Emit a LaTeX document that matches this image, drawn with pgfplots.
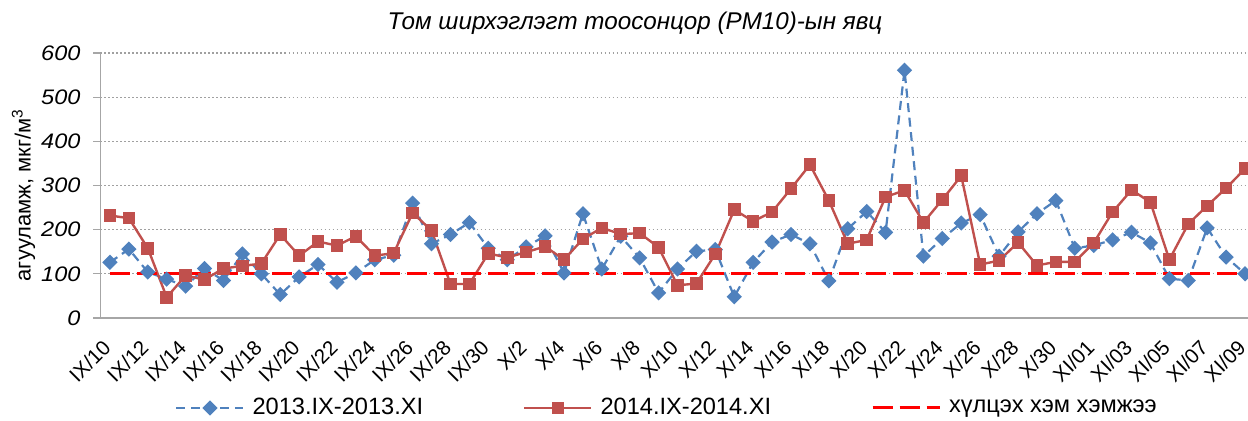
\documentclass[border=0pt]{standalone}
\usepackage{pgfplots}
\pgfplotsset{compat=1.18}
\usepackage{fontspec}
\setmainfont{Liberation Sans}
\newfontfamily\wideit{Liberation Sans}[FakeStretch=1.12, ItalicFont={Liberation Sans Italic}]
\definecolor{sblue}{HTML}{4F81BD}
\definecolor{sred}{HTML}{C0504D}
\definecolor{axgray}{HTML}{A6A6A6}
\definecolor{gridgray}{HTML}{A0A0A0}
\begin{document}
\begin{tikzpicture}
\begin{axis}[
  name=ax,
  scale only axis,
  width=577pt, height=132.5pt,
  xmin=-0.5, xmax=60.5, ymin=0, ymax=600,
  ytick={0,100,...,600},
  xtick={0,2,...,60},
  xticklabels={IX/10,IX/12,IX/14,IX/16,IX/18,IX/20,IX/22,IX/24,IX/26,IX/28,IX/30,X/2,X/4,X/6,X/8,X/10,X/12,X/14,X/16,X/18,X/20,X/22,X/24,X/26,X/28,X/30,XI/01,XI/03,XI/05,XI/07,XI/09},
  axis x line*=bottom, axis y line*=left,
  axis line style={-, draw=axgray, line width=0.9pt},
  ymajorgrids,
  grid style={gridgray, line width=0.55pt, dash pattern=on 0.6pt off 1.4pt},
  tick align=outside,
  major tick length=3.5pt,
  ytick style={draw=axgray, line width=0.6pt},
  xtick style={draw=none},
  /pgf/number format/assume math mode=true,
  yticklabel style={font=\fontsize{10.5}{13}\selectfont\wideit\itshape, anchor=east, xshift=-3pt},
  xticklabel style={font=\fontsize{10.3}{12}\selectfont, xshift=-1.5pt, yshift=-9.5pt, rotate=45, anchor=east, inner sep=0pt},
  clip=false,
  legend columns=3,
  legend cell align=left,
  legend style={draw=none, fill=none, font=\fontsize{11.8}{13}\selectfont,
    at={(axis description cs:0.4918,-0.3396)}, anchor=center,
    /tikz/every even column/.append style={column sep=48pt},
    /tikz/every odd column/.append style={column sep=2pt}},
  legend image code/.code={\draw[mark repeat=2,mark phase=2] plot coordinates {(0pt,0pt)(16.75pt,0pt)(33.5pt,0pt)};},
]
\addplot[sblue, line width=1.1pt, dash pattern=on 4.5pt off 2.8pt, mark=square*, mark size=2.15pt, mark options={solid, rotate=45, fill=sblue, draw=sblue}] coordinates {
(0,126)(1,156)(2,104)(3,88)(4,72)(5,112)(6,85)(7,145)(8,100)(9,53)
(10,93)(11,121)(12,81)(13,102)(14,132)(15,142)(16,260)(17,168)(18,189)(19,216)
(20,158)(21,132)(22,161)(23,186)(24,102)(25,236)(26,111)(27,185)(28,136)(29,57)
(30,111)(31,151)(32,155)(33,48)(34,126)(35,172)(36,189)(37,168)(38,84)(39,202)
(40,241)(41,194)(42,561)(43,140)(44,180)(45,215)(46,234)(47,140)(48,195)(49,236)
(50,266)(51,158)(52,164)(53,177)(54,194)(55,170)(56,89)(57,85)(58,204)(59,138)
(60,100)};
\addlegendentry{2013.IX-2013.XI}
\addplot[sred, line width=1.2pt, mark=square*, mark size=2.55pt, mark options={solid, fill=sred, draw=sred}] coordinates {
(0,232)(1,226)(2,158)(3,47)(4,96)(5,87)(6,112)(7,118)(8,123)(9,189)
(10,141)(11,173)(12,164)(13,185)(14,141)(15,147)(16,238)(17,198)(18,77)(19,77)
(20,146)(21,137)(22,149)(23,162)(24,132)(25,179)(26,204)(27,190)(28,192)(29,160)
(30,74)(31,78)(32,145)(33,245)(34,219)(35,240)(36,293)(37,347)(38,266)(39,168)
(40,177)(41,274)(42,289)(43,216)(44,268)(45,322)(46,121)(47,130)(48,171)(49,119)
(50,127)(51,127)(52,170)(53,240)(54,290)(55,262)(56,132)(57,213)(58,254)(59,294)
(60,338)};
\addlegendentry{2014.IX-2014.XI}
\addplot[red, line width=1.5pt, dash pattern=on 10pt off 3.5pt] coordinates {(0,100)(60,100)};
\addlegendentry{хүлцэх хэм хэмжээ}
\end{axis}
\node[font=\fontsize{12.1}{15}\selectfont\itshape] at ([shift={(267.25pt,147.5pt)}]ax.south west) {Том ширхэглэгт тоосонцор (PM10)-ын явц};
\node[rotate=90, font=\fontsize{11}{13}\selectfont] at ([shift={(-38.5pt,61.5pt)}]ax.south west) {агууламж, мкг/м\textsuperscript{3}};
\pgfresetboundingbox
\path[use as bounding box] ([shift={(-50.25pt,-51.5pt)}]ax.south west) rectangle ([shift={(573.75pt,159pt)}]ax.south west);
\end{tikzpicture}
\end{document}
